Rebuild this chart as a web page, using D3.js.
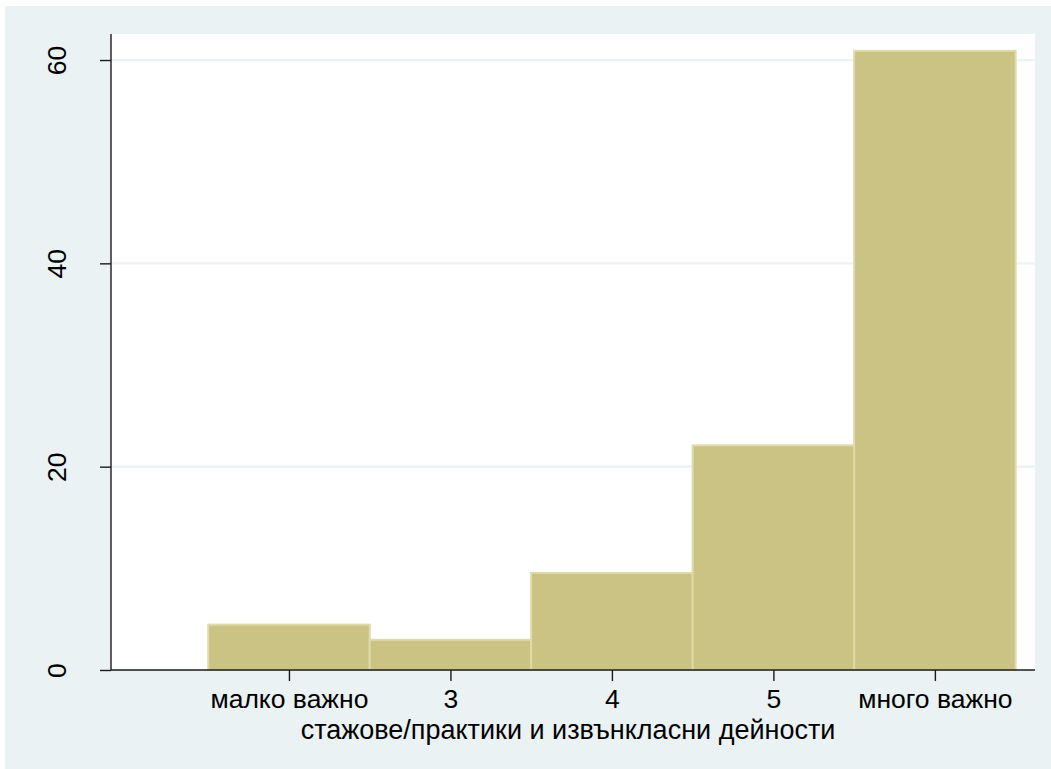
<!DOCTYPE html>
<html>
<head>
<meta charset="utf-8">
<script src="https://cdn.jsdelivr.net/npm/d3@7"></script>
<style>
  html, body { margin: 0; padding: 0; background: #ffffff; overflow: hidden; }
  svg { display: block; }
</style>
</head>
<body>
<div id="chart"></div>
<script>
var width = 1051;
var height = 769;

// data (percent)
var categories = [1, 2, 3, 4, 5];
var tickLabels = ["малко важно", "3", "4", "5", "много важно"];
var percents = [4.46, 2.97, 9.55, 22.1, 60.9];
var yTicks = [0, 20, 40, 60];
var xTitle = "стажове/практики и извънкласни дейности";

var font = "Liberation Sans, Arial, Helvetica, sans-serif";

var svg = d3.select("#chart")
    .append("svg")
    .attr("width", width)
    .attr("height", height);

// graph region
svg.append("rect")
    .attr("x", 5)
    .attr("y", 6)
    .attr("width", width)
    .attr("height", height)
    .attr("fill", "#eaf2f3");

var plotLeft = 111, plotRight = 1035, plotTop = 34, plotBottom = 670;

svg.append("rect")
    .attr("x", plotLeft)
    .attr("y", plotTop)
    .attr("width", plotRight - plotLeft)
    .attr("height", plotBottom - plotTop)
    .attr("fill", "#ffffff");

var x = d3.scaleLinear()
    .domain([-0.102, 5.62])
    .range([plotLeft, plotRight]);

var y = d3.scaleLinear()
    .domain([0, 62.56])
    .range([plotBottom, plotTop]);

// grid lines
svg.append("g")
    .selectAll("line")
    .data(yTicks.filter(function (d) { return d > 0; }))
    .enter()
    .append("line")
    .attr("x1", plotLeft)
    .attr("x2", plotRight)
    .attr("y1", function (d) { return y(d); })
    .attr("y2", function (d) { return y(d); })
    .attr("stroke", "#eaf2f3")
    .attr("stroke-width", 2.2);

// bars
svg.append("g")
    .selectAll("rect")
    .data(categories)
    .enter()
    .append("rect")
    .attr("x", function (d) { return x(d - 0.5); })
    .attr("y", function (d, i) { return y(percents[i]); })
    .attr("width", function (d) { return x(d + 0.5) - x(d - 0.5); })
    .attr("height", function (d, i) { return y(0) - y(percents[i]); })
    .attr("fill", "#cbc384")
    .attr("stroke", "#dfdaa9")
    .attr("stroke-width", 2);

// y axis
var yAxis = d3.axisLeft(y)
    .tickValues(yTicks)
    .tickSize(11)
    .tickFormat(d3.format("d"));

var gy = svg.append("g")
    .attr("transform", "translate(" + plotLeft + ",0)")
    .call(yAxis);

gy.select(".domain")
    .attr("d", "M0," + plotTop + "V" + plotBottom)
    .attr("stroke", "#1a1a1a")
    .attr("stroke-width", 1.4);
gy.selectAll(".tick line")
    .attr("stroke", "#1a1a1a")
    .attr("stroke-width", 1.4);
gy.selectAll(".tick text")
    .attr("x", 0)
    .attr("y", 0)
    .attr("dy", 0)
    .attr("transform", "translate(-45,0) rotate(-90)")
    .attr("text-anchor", "middle")
    .attr("font-family", font)
    .attr("font-size", 26.5)
    .attr("fill", "#000");

// x axis
var xAxis = d3.axisBottom(x)
    .tickValues(categories)
    .tickSize(11)
    .tickFormat(function (d, i) { return tickLabels[i]; });

var gx = svg.append("g")
    .attr("transform", "translate(0," + plotBottom + ")")
    .call(xAxis);

gx.select(".domain")
    .attr("d", "M" + plotLeft + ",0H" + plotRight)
    .attr("stroke", "#1a1a1a")
    .attr("stroke-width", 1.4);
gx.selectAll(".tick line")
    .attr("stroke", "#1a1a1a")
    .attr("stroke-width", 1.4);
gx.selectAll(".tick text")
    .attr("y", 38)
    .attr("dy", 0)
    .attr("font-family", font)
    .attr("font-size", 26.5)
    .attr("fill", "#000");

// x title
svg.append("text")
    .attr("x", (plotLeft + plotRight) / 2 - 5)
    .attr("y", 739)
    .attr("text-anchor", "middle")
    .attr("font-family", font)
    .attr("font-size", 27)
    .attr("fill", "#000")
    .text(xTitle);
</script>
</body>
</html>
